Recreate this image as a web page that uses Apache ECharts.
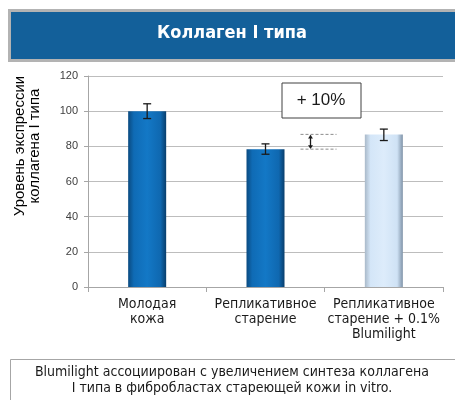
<!DOCTYPE html>
<html>
<head>
<meta charset="utf-8">
<script src="https://cdn.jsdelivr.net/npm/echarts@6/dist/echarts.min.js"></script>
<style>
  html, body { margin: 0; padding: 0; background: #fff; }
  #chart { width: 455px; height: 400px; }
</style>
</head>
<body>
<div id="chart"></div>
<script>
var categories = ['Молодая\nкожа', 'Репликативное\nстарение', 'Репликативное\nстарение + 0.1%\nBlumilight'];
var values = [100, 78.4, 86.8];
var errLow = [95.8, 75.5, 83.3];
var errHigh = [104.2, 81.4, 89.8];
var yTicks = [0, 20, 40, 60, 80, 100, 120];
var deltaLabel = '+ 10%';

var narrow = '"Liberation Sans Narrow", "DejaVu Sans Condensed", sans-serif';
var arial = '"Liberation Sans", Arial, sans-serif';

function darkBar() {
    return new echarts.graphic.LinearGradient(0, 0, 1, 0, [
        {offset: 0, color: '#0a4a80'},
        {offset: 0.15, color: '#0f6bb5'},
        {offset: 0.5, color: '#1378c6'},
        {offset: 0.85, color: '#0f68b0'},
        {offset: 1, color: '#083e6c'}
    ]);
}
function lightBar() {
    return new echarts.graphic.LinearGradient(0, 0, 1, 0, [
        {offset: 0, color: '#a9b9c9'},
        {offset: 0.15, color: '#d4e6f8'},
        {offset: 0.5, color: '#ddecfb'},
        {offset: 0.85, color: '#cfe2f5'},
        {offset: 1, color: '#7f93a8'}
    ]);
}

var barData = values.map(function (v, i) {
    return {value: v, itemStyle: {color: i == 2 ? lightBar() : darkBar()}};
});
var errData = errLow.map(function (lo, i) { return [i, lo, errHigh[i]]; });

var chart = echarts.init(document.getElementById('chart'));
var option = {
    animation: false,
    grid: {left: 88, right: 12, top: 76, bottom: 113},
    xAxis: {
        type: 'category',
        data: categories,
        axisLine: {lineStyle: {color: '#a6a6a6'}},
        axisTick: {show: true, length: 5, lineStyle: {color: '#a6a6a6'}},
        axisLabel: {
            interval: 0, margin: 10, color: '#1a1a1a',
            fontFamily: narrow, fontSize: 14, lineHeight: 15
        }
    },
    yAxis: {
        type: 'value',
        min: yTicks[0], max: yTicks[yTicks.length - 1], interval: 20,
        axisLine: {show: true, lineStyle: {color: '#a6a6a6'}},
        axisTick: {show: true, length: 4, lineStyle: {color: '#a6a6a6'}},
        axisLabel: {color: '#404040', fontSize: 11, fontFamily: arial, margin: 10},
        splitLine: {lineStyle: {color: '#bdbdbd'}}
    },
    series: [
        {
            type: 'bar',
            data: barData,
            barWidth: 38
        },
        {
            type: 'custom',
            data: errData,
            z: 10,
            renderItem: function (params, api) {
                var lo = api.coord([api.value(0), api.value(1)]);
                var hi = api.coord([api.value(0), api.value(2)]);
                var hw = 4;
                var st = {stroke: '#1a1a1a', lineWidth: 1.3};
                return {
                    type: 'group',
                    children: [
                        {type: 'line', shape: {x1: lo[0], y1: lo[1], x2: hi[0], y2: hi[1]}, style: st},
                        {type: 'line', shape: {x1: lo[0] - hw, y1: lo[1], x2: lo[0] + hw, y2: lo[1]}, style: st},
                        {type: 'line', shape: {x1: hi[0] - hw, y1: hi[1], x2: hi[0] + hw, y2: hi[1]}, style: st}
                    ]
                };
            }
        }
    ]
};
chart.setOption(option);

// аннотация +10% между 2 и 3 столбцом
var p2 = chart.convertToPixel({gridIndex: 0}, [1, values[1]]);
var p3 = chart.convertToPixel({gridIndex: 0}, [2, values[2]]);
var dx1 = p2[0] + 35, dx2 = p2[0] + 71, ax = p2[0] + 45;
var dash = {stroke: '#8c8c8c', lineWidth: 1, lineDash: [3, 2]};

chart.setOption({
    graphic: [
        // шапка
        {type: 'rect', left: 8, top: 9, shape: {width: 450, height: 50},
            style: {fill: '#13609a', stroke: '#b3b3b3', lineWidth: 3}, z: 1},
        {type: 'text', x: 232, y: 33, z: 2,
            style: {text: 'Коллаген I типа', fill: '#fff', font: 'bold 18px ' + narrow, align: 'center', verticalAlign: 'middle'}},
        // подпись оси Y
        {type: 'text', x: 27, y: 146, rotation: Math.PI / 2,
            style: {text: 'Уровень экспрессии\nколлагена I типа', fill: '#000', font: '15px ' + arial, lineHeight: 15, align: 'center', verticalAlign: 'middle'}},
        // подпись снизу
        {type: 'rect', left: 8, top: 357, shape: {width: 460, height: 60},
            style: {fill: 'none', stroke: '#a6a6a6', lineWidth: 1}},
        {type: 'text', x: 232, y: 372,
            style: {text: 'Blumilight ассоциирован с увеличением синтеза коллагена', fill: '#1a1a1a', font: '14px ' + narrow, align: 'center', verticalAlign: 'middle'}},
        {type: 'text', x: 232, y: 388,
            style: {text: 'I типа в фибробластах стареющей кожи in vitro.', fill: '#1a1a1a', font: '14px ' + narrow, align: 'center', verticalAlign: 'middle'}},
        // +10%
        {type: 'rect', x: 282, y: 83, shape: {width: 79, height: 35},
            style: {fill: '#fff', stroke: '#404040', lineWidth: 1}, z: 20},
        {type: 'text', x: 321, y: 100, z: 21,
            style: {text: deltaLabel, fill: '#1a1a1a', font: '17px ' + arial, align: 'center', verticalAlign: 'middle'}},
        {type: 'line', shape: {x1: dx1, y1: p3[1], x2: dx2, y2: p3[1]}, style: dash, z: 20},
        {type: 'line', shape: {x1: dx1, y1: p2[1], x2: dx2, y2: p2[1]}, style: dash, z: 20},
        {type: 'line', shape: {x1: ax, y1: p3[1] + 1, x2: ax, y2: p2[1] - 1}, style: {stroke: '#1a1a1a', lineWidth: 1.3}, z: 21},
        {type: 'polygon', shape: {points: [[ax - 2.5, p3[1] + 4], [ax + 2.5, p3[1] + 4], [ax, p3[1] + 0.5]]}, style: {fill: '#1a1a1a'}, z: 21},
        {type: 'polygon', shape: {points: [[ax - 2.5, p2[1] - 4], [ax + 2.5, p2[1] - 4], [ax, p2[1] - 0.5]]}, style: {fill: '#1a1a1a'}, z: 21}
    ]
});
</script>
</body>
</html>
